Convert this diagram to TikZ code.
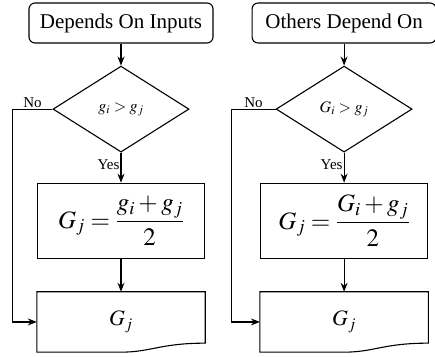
\documentclass[tikz,border=0pt]{standalone}
\usepackage{mathptmx}
\usepackage[no-math]{fontspec}
\setmainfont{Liberation Serif}
\newfontfamily\chartfont{Liberation Serif}
\usetikzlibrary{shapes.geometric, arrows.meta, positioning, calc}

\begin{document}
\begin{tikzpicture}[
  x=1pt, y=1pt,
  node distance=22pt,
  title/.style={rectangle, rounded corners=6pt, draw, line width=1.1pt,
                minimum width=184pt, minimum height=40pt,
                font=\chartfont\fontsize{21}{24}\selectfont},
  test/.style={diamond, draw, line width=1.1pt, inner sep=0pt,
               minimum width=136pt, minimum height=86pt,
               font=\fontsize{16}{19}\selectfont},
  avgbox/.style={rectangle, draw, line width=1.1pt,
                 minimum width=167pt, minimum height=75pt,
                 font=\fontsize{25}{30}\selectfont},
  docbox/.style={minimum width=168pt, minimum height=60pt, inner sep=0pt,
                 font=\fontsize{22}{26}\selectfont},
  doc/.style={draw, line width=1.1pt},
  lbl/.style={font=\chartfont\fontsize{15}{17}\selectfont, inner sep=1pt},
  arr/.style={-{Stealth[length=9pt,width=7pt,inset=3pt]}, line width=1.1pt}
]
  \useasboundingbox (0,0) rectangle (435,356);

  % left chart
  \node[title] (dep1) at (121,333) {Depends On Inputs};
  \node[test, below=22pt of dep1] (cmp1) {$g_i > g_j$};
  \node[avgbox, below=30pt of cmp1] (avg1) {$G_j = \displaystyle\frac{g_i + g_j}{2}$};
  \node[docbox, below=33pt of avg1] (out1) {\raisebox{3pt}{$G_j$}};
  \draw[doc] (out1.north west) -- (out1.north east) -- ([yshift=9pt]out1.south east)
    .. controls ([xshift=-45pt,yshift=9pt]out1.south east) and ([xshift=30pt]out1.south) .. (out1.south)
    -- (out1.south west) -- cycle;

  \draw[arr] (dep1) -- (cmp1);
  \draw[arr] (cmp1) -- node[lbl, left, pos=0.4] {Yes} (avg1);
  \draw[arr] (avg1) -- (out1);
  \draw[arr] (cmp1.west) -- node[lbl, above] {No} ++(-40pt,0) |- (out1.west);

  % right chart
  \node[title, right=38pt of dep1] (dep2) {Others Depend On};
  \node[test, below=22pt of dep2] (cmp2) {$G_i > g_j$};
  \node[avgbox, below=30pt of cmp2] (avg2) {$G_j = \displaystyle\frac{G_i + g_j}{2}$};
  \node[docbox, below=33pt of avg2] (out2) {\raisebox{3pt}{$G_j$}};
  \draw[doc] (out2.north west) -- (out2.north east) -- ([yshift=9pt]out2.south east)
    .. controls ([xshift=-45pt,yshift=9pt]out2.south east) and ([xshift=30pt]out2.south) .. (out2.south)
    -- (out2.south west) -- cycle;

  \draw[arr] (dep2) -- (cmp2);
  \draw[arr] (cmp2) -- node[lbl, left, pos=0.4] {Yes} (avg2);
  \draw[arr] (avg2) -- (out2);
  \draw[arr] (cmp2.west) -- node[lbl, above] {No} ++(-44pt,0) |- (out2.west);
\end{tikzpicture}
\end{document}
